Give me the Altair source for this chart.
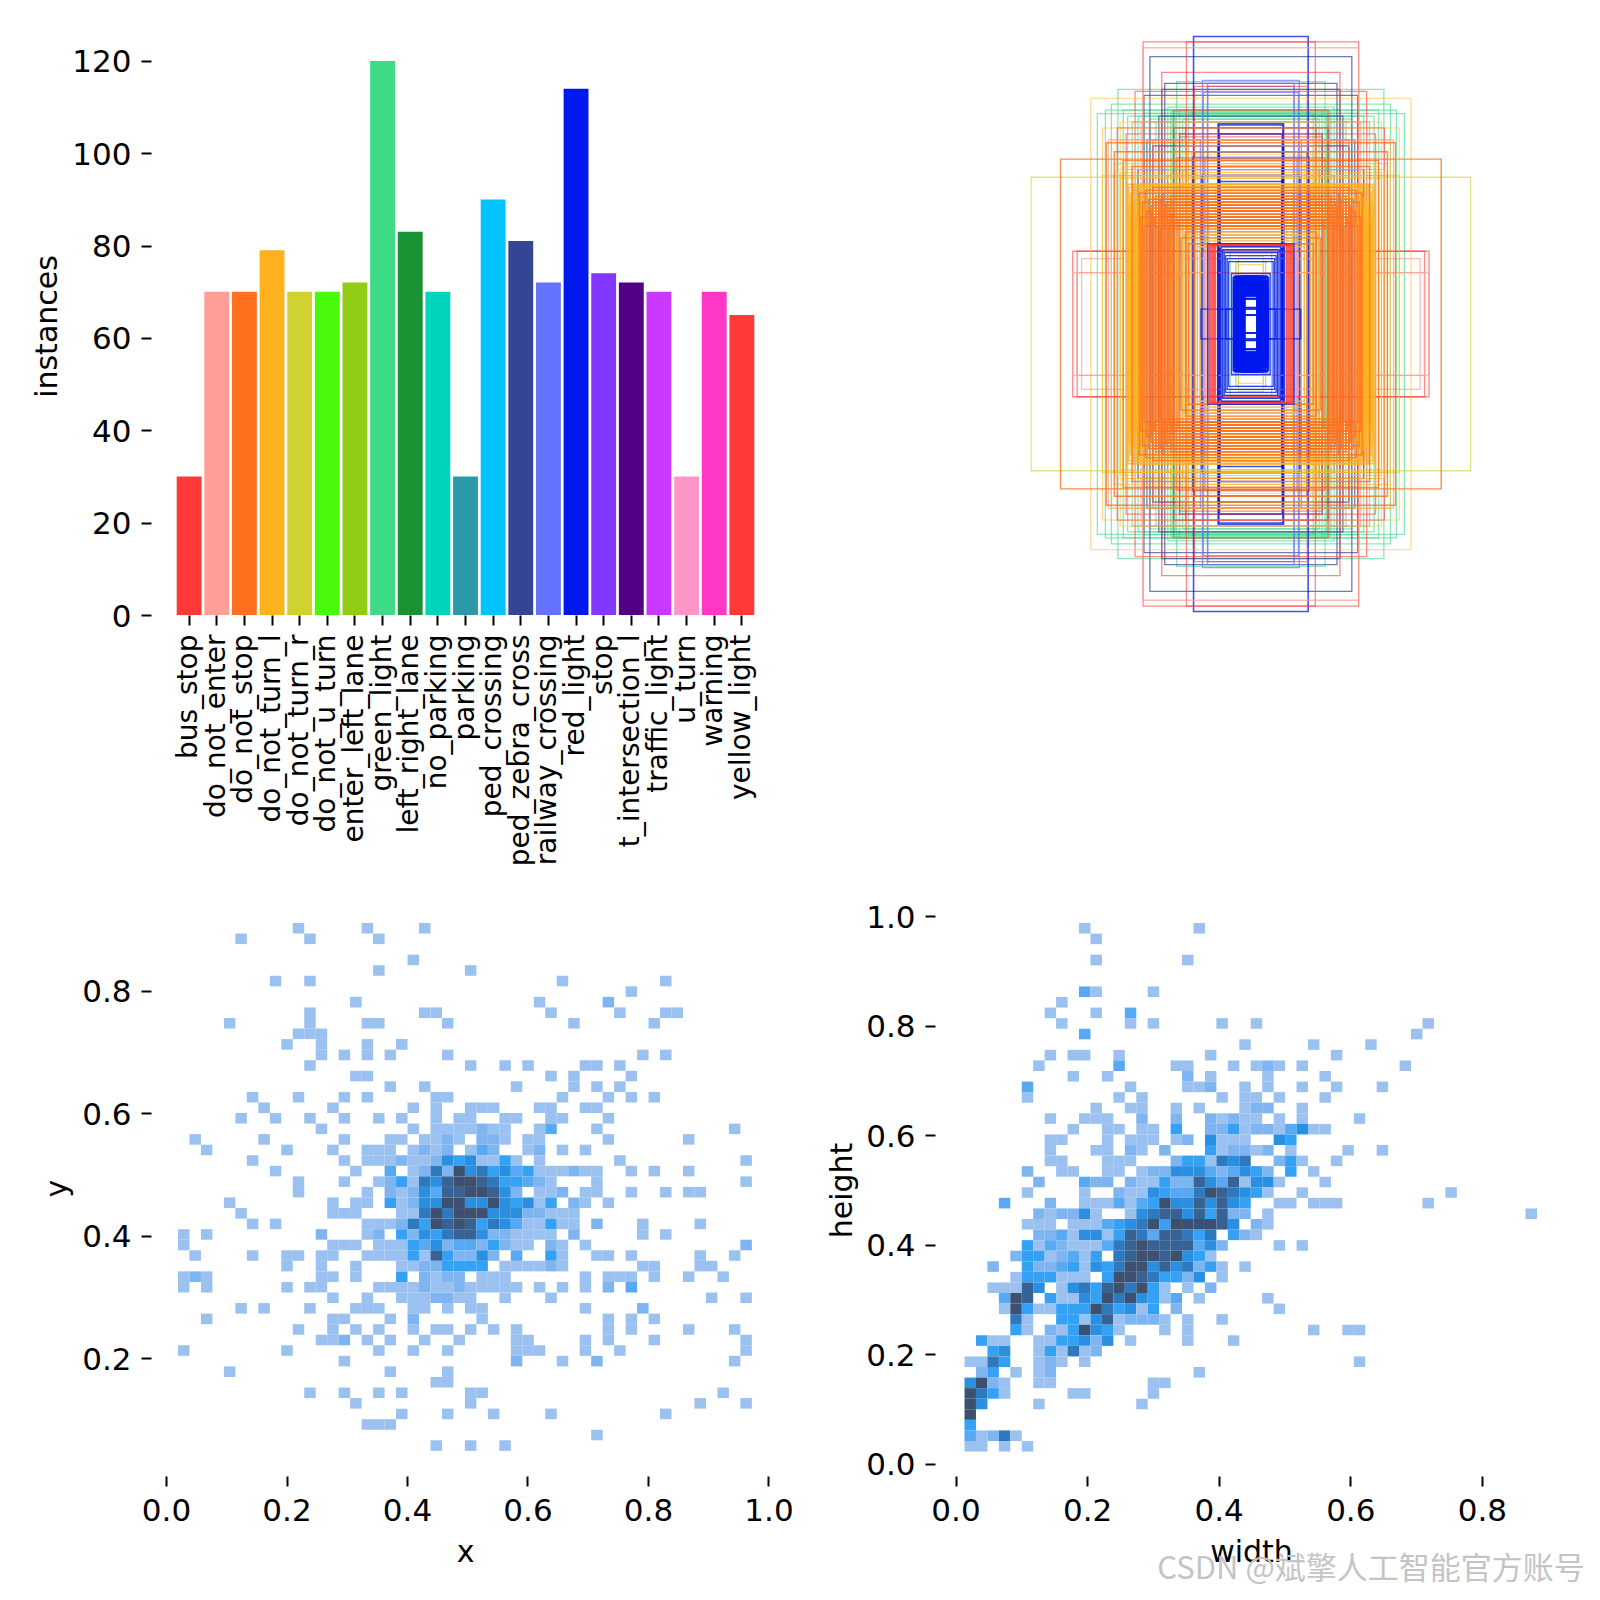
import altair as alt
import pandas as pd

CLASSES = ["bus_stop", "do_not_enter", "do_not_stop", "do_not_turn_l", "do_not_turn_r", "do_not_u_turn",
           "enter_left_lane", "green_light", "left_right_lane", "no_parking", "parking", "ped_crossing",
           "ped_zebra_cross", "railway_crossing", "red_light", "stop", "t_intersection_l", "traffic_light",
           "u_turn", "warning", "yellow_light"]
INSTANCES = [30, 70, 70, 79, 70, 70, 72, 120, 83, 70, 30, 90, 81, 72, 114, 74, 72, 70, 30, 70, 65]
BAR_COLORS = ["#FF3838", "#FF9D97", "#FF701F", "#FFB21D", "#CFD231", "#48F90A", "#92CC17", "#3DDB86", "#1A9334",
              "#00D4BB", "#2C99A8", "#00C2FF", "#344593", "#6473FF", "#0018EC", "#8438FF", "#520085", "#CB38FF",
              "#FF95C8", "#FF37C7", "#FF3838"]

LEVEL_COLORS = ["#9ac1f0", "#7eb5f1", "#58a9f3", "#35a1f5", "#2a8fe0", "#2e79bd", "#386294", "#3d5070"]

# histogram cells, top row first: "column" (lowest level) or "column:level"
XY_ROWS = ["10 16 21", "5 11 17", "", "20", "17 25", "8 11 33 42", "39", "15 31 37:2", "11 21 22 32 38 42 43",
           "4 11 16 17 23 34 41", "10 11 12", "9 12 16 19", "12 14 16 18 23 40 42", "11 25 28 30 35 36 38",
           "15 16 32 34 39", "18 21 29 34 36 38", "6 10 14 16 22 23 33 37 39 41", "7 13 20 22 25 26 27 31 32 35 36",
           "5 8 11 14 17 19 22 24 25 28 29 32 33 37", "12 20 22 23 24 25 26:2 27 28 31 32:3 36 48",
           "1 7 14 18 19 21 22 23:2 24 26:2 27:2 28 30 31 37 44",
           "2 9 13 16 17 18 20 21:2 22 23:2 25 26:3 27:2 30 31:2 33 35",
           "6 14 16 17 18 19:2 20 21 22:2 23:5 24:4 25:5 26 27 28:4 29 31 38 49",
           "8 15 18:3 20 21:2 22:6 23:2 24:8 25:5 26:6 27:4 28:5 29:3 30:4 31 32 33 34:2 35 36 39 41 44",
           "10 14 17 18:2 19:4 20 21:6 22:5 23:7 24:8 25:8 26:7 27:6 28:4 29:4 30:3 31:2 32 36 49",
           "10 16 18:2 19 20:2 21:5 22:3 23:7 24:7 25:8 26:8 27:7 28:5 29:2 31 32 33:2 35 36 39 42 44 45",
           "4 13 15 16 18:4 19 20:2 21:5 22:5 23:8 24:8 25:5 26:5 27:8 28:5 29:4 30:5 31 32:4 34:2 35 37",
           "5 13 14 15 19 20 21:6 22:8 23:6 24:8 25:8 26:8 27:5 28:5 29:5 30:2 31:2 32 33 34",
           "6 8 16 17 18 19:2 20:6 21:4 22:8 23:7 24:8 25:7 26:4 27:6 28:5 29:3 30 31 32:4 33 34 36:2 40 45",
           "0 2 12:2 16 17:2 19:4 20:2 21:5 22:4 23:6 24:7 25:7 26:5 27:2 28:2 29 30 31 32 34:2 40 42",
           "0 13 14 15 17 18 19 20:4 21:3 22:5 23:2 24:3 25:3 26:2 27:4 28:2 29 30 32:2 33 35 49:2",
           "1 6 9 10 12 13 16 17 18 19 20:4 21 22:7 23:4 24:2 25:2 26:5 27:2 29:3 32:4 33 36 37 39 45 48",
           "9 12 15 19 20 21:2 22:2 23:4 24:4 25:4 26:4 28 29 30 31 32:2 33 40 41 45 46",
           "0 1:2 2 12 13 15 19:4 21:2 22 23:2 24:2 26 27 28 35 37 38 39 41 44 47",
           "0 2 9 11 12 17 18 19 20 21:2 22 23 24:2 25 26 27 28 29 31 33 35 37:2 39:3",
           "13 16 19 20 21 22:2 23:2 24 25 28 32 46 49", "5 7 11 15 16 17 20 21 23 25 26 35 40:2",
           "2 13 14 18 20:2 26 37 39 41", "10 13 15 17 20 22 23 25 27 29 37 39 44 48",
           "12 13 14:2 16 18 21 24 29 30 35 37 41 49", "0 9 17 20 23 29 30 31 35 38 49", "14 29:2 33 36:2 48",
           "4 18 23", "22 23", "11 14 17 19 25 26 47", "15 25 45 49", "19 23 27 32 42", "16 17 18", "36", "22 25 28"]

WH_ROWS = ["10 20", "11", "", "11 19", "", "", "10:3 11 16", "8", "7 11 14:3", "8 14 16 22 25 40", "10:3 39",
           "24 30 35", "7 9 10 13 21 32", "6 13:3 18 19 23 25 26:2 27 29 38", "9 12 19:2 21 26 31",
           "5:3 14 19 20 21:2 24 26 29 32 36", "5 13 15 22 24 25 27 31", "11 14 15 18 20 24 25:2 26:2 29",
           "7 10 11 12 15:2 18:2 21:2 22 23:2 24 25 27 29 34",
           "9 12 13 15 16 18:4 21:2 22:2 23:4 24 25:2 26:2 27 28:3 29:5 30 31",
           "7 8 12 14 15 16 18 19:2 21:5 22 23 24 27:5 28:4", "7 11 12 14:2 15 17:2 21:4 22 23:2 24:2 25 26:2 28 33 36",
           "7 8 12 13 14 18:2 19:4 20:4 21 22:6 23:5 24:6 27:2 28:4 29 32",
           "5:2 8 9 12 13 15 16:2 17:2 18:5 19:5 20:5 21:3 22:2 23:3 24:5 25:4 26:2 28:4 30",
           "6:2 10:3 11:2 12:2 14:2 15 16 17:4 18:2 19:2 20:7 21:5 22:3 23:7 24 25:5 26:5 27 31",
           "5 10 13:2 14 15 16:5 17:4 18:3 19:3 20:6 21:8 22:7 23:6 24:5 25:4 26 29 42",
           "3:3 7:2 10 11 12 13:3 14 15:3 16:4 17:8 18:5 19:5 20:7 21:5 22:7 23:5 24:4 27 28 30 31 32 40",
           "6:2 7 8:2 9:2 10:5 11 14 15:5 16:6 17:7 18:7 19:5 20:7 21:4 22:7 23:2 24:2 26 49",
           "5 6 7 9 10 11 12:3 13:4 14:5 15:6 16:8 17:4 18:8 19:8 20:8 21:8 22:7 23:5 25:2 26",
           "6:2 7:2 8:3 9 10:5 11:5 12 13:4 14:7 15:6 16:3 17:7 18:7 19:6 20:4 21:6 23:4 24:2 25",
           "5:4 6 7:3 8:2 9 10 11 12:3 13:6 14:7 15:8 16:7 17:7 18:7 19:7 20:3 21:5 22:2 27 29",
           "4:2 5:4 6:4 7 8:2 9:3 10 11:4 13:6 14:7 15:8 16:8 17:7 18:8 19:5 20:4 21",
           "2:2 5:4 6:2 7:2 8:3 9:4 10 11:5 12:4 13:6 14:8 15:8 16:5 17:7 18:5 19:6 20:2 21:4 22 24",
           "4 5:4 6:4 7:4 8 9 10 12:4 13:8 14:8 15:7 16:6 17:4 18:4 19:2 20:5 22",
           "2 3 4 5:7 6:5 8 9:5 10:6 11:4 12:7 13:8 14:6 15:8 16:4 17 19 21:2",
           "3:3 4:8 5:7 7:4 8 9 10:5 11:4 12:8 13:6 14:8 15:5 16:4 17 18:3 20 26",
           "3 4:8 5:4 6 7 8:4 9:4 10:4 11:8 12:6 13:4 14:5 15 16:4 18:2 27",
           "4:6 5 8:4 9:4 10 11:5 12:7 13 14:2 15:2 16:2 17 19 22", "4:4 5 7:2 8 9:4 10:8 11:5 12:4 13 17 19 30 33 34",
           "1:4 2 3 6 7 8:4 9:4 10:5 11:2 12:5 14 19 23", "2:4 3:5 6 7:4 8 9:6 10 11:2", "0 1 2:6 3:4 6 7:2 8 10 34",
           "1:2 2:4 4 6 7:2 20", "0:5 1:8 2:2 3 6 7 16 17", "0:8 1:6 2:4 3 9 10 16", "0:8 1:5 6 15", "0:8", "0:4",
           "0:3 1 2:2 3:6 4", "0 1 3 5"]

# label boxes (width, height), normalised, listed per class in drawing order
BOXES_GREEN = [(.517, .708), (.448, .79), (.47, .74), (.43, .72), (.40, .68), (.25, .816), (.24, .72), (.22, .70),
               (.36, .71), (.38, .70), (.34, .69), (.32, .68), (.30, .72), (.28, .73), (.415, .70), (.49, .72),
               (.27, .715), (.265, .71), (.26, .705), (.255, .70), (.23, .69), (.21, .71), (.05, .21), (.07, .24),
               (.09, .25), (.16, .30)]
BOXES_BLUE_DARK = [(.34, .90), (.30, .79), (.29, .81), (.31, .70), (.33, .60), (.38, .52), (.36, .77), (.35, .62),
                   (.26, .66), (.24, .64)]
BOXES_BLUE_SKY = [(.163, .82), (.146, .81), (.145, .80), (.16, .78), (.17, .62), (.155, .56)]
BOXES_BLUE_MID = [(.11, .674), (.108, .67), (.106, .64), (.11, .60), (.107, .58), (.105, .53), (.109, .50), (.104, .48),
                  (.108, .42), (.11, .38), (.106, .34), (.19, .58), (.193, .968), (.196, .56), (.165, .50)]
BOXES_RED = [(.60, .245), (.585, .245), (.363, .95), (.217, .95), (.30, .847), (.39, .783), (.45, .66), (.42, .64),
             (.36, .55), (.33, .62), (.31, .60), (.24, .63), (.26, .72), (.20, .46), (.17, .38), (.28, .50),
             (.25, .56), (.23, .52), (.22, .66), (.19, .80)]
BOXES_PINK = [(.60, .173), (.585, .173), (.363, .93), (.57, .22), (.48, .62), (.37, .68), (.35, .50), (.30, .30),
              (.23, .38), (.21, .34), (.19, .30), (.18, .26), (.17, .28), (.16, .24), (.155, .27), (.15, .30)]
BOXES_YELLOW_GREEN = [(.74, .494), (.42, .58), (.50, .50), (.32, .44), (.29, .32), (.14, .42), (.36, .39), (.225, .30),
                      (.22, .36), (.20, .29), (.19, .28), (.18, .27), (.17, .26), (.21, .47), (.23, .44), (.405, .41),
                      (.042, .226)]
BOXES_YELLOW_THIN = [(.539, .76), (.50, .66), (.47, .62), (.44, .68), (.46, .54), (.45, .52), (.44, .51), (.43, .50),
                     (.22, .62), (.21, .60), (.20, .58), (.19, .56), (.23, .55), (.18, .54), (.215, .51), (.205, .49),
                     (.26, .47), (.24, .45), (.27, .53), (.25, .60), (.22, .57), (.30, .27), (.25, .29), (.12, .45),
                     (.11, .41), (.042, .20), (.27, .31), (.46, .50), (.44, .49), (.43, .53), (.42, .52)]
BOXES_YELLOW_BAND = [(.415, .47), (.413, .40), (.41, .46), (.407, .36), (.405, .44), (.402, .33), (.40, .45),
                     (.397, .39), (.395, .47), (.392, .35), (.39, .42), (.387, .37), (.385, .46), (.382, .34),
                     (.38, .43), (.377, .38), (.375, .47), (.372, .41), (.37, .45), (.367, .35), (.365, .42),
                     (.362, .39), (.36, .46)]
BOXES_ORANGE = [(.641, .555), (.487, .61), (.46, .58), (.43, .55), (.40, .53), (.375, .44), (.37, .36), (.365, .41),
                (.36, .33), (.355, .45), (.35, .38), (.345, .42), (.34, .34), (.335, .40), (.33, .46), (.325, .36),
                (.32, .43), (.315, .33), (.31, .39), (.305, .42), (.30, .35), (.295, .44), (.29, .38), (.285, .41),
                (.28, .34), (.275, .40), (.27, .43), (.265, .37), (.26, .39), (.258, .35), (.335, .37), (.32, .41),
                (.305, .32), (.29, .40), (.275, .33), (.262, .42), (.30, .40), (.28, .38), (.31, .36), (.34, .39),
                (.22, .31), (.21, .27), (.19, .33), (.245, .35), (.235, .29)]
BOXES_RED_INNER = [(.14, .267), (.137, .267), (.134, .267), (.131, .267), (.128, .267), (.125, .267), (.122, .267),
                   (.119, .267)]
BOXES_BLUE_RING = [(.145, .27), (.112, .27), (.108, .265), (.10, .26), (.095, .25), (.09, .24), (.085, .23), (.08, .22),
                   (.075, .21), (.168, .05), (.084, .05), (.06, .156), (.065, .17)]
BOXES_BLUE_CORE = [(.056, .16), (.056, .145), (.056, .13), (.056, .115), (.056, .10), (.056, .085), (.05, .16),
                   (.05, .145), (.05, .13), (.05, .115), (.05, .10), (.05, .085), (.045, .155), (.045, .14), (.045, .125),
                   (.045, .11), (.045, .095), (.04, .16), (.04, .15), (.04, .135), (.04, .12), (.04, .105), (.035, .155),
                   (.035, .14), (.035, .125), (.035, .11), (.03, .16), (.03, .15), (.03, .135), (.03, .12), (.03, .105),
                   (.025, .155), (.025, .14), (.025, .125), (.025, .095), (.022, .16), (.022, .145), (.022, .12),
                   (.022, .10), (.04, .055), (.04, .03)]

# (colour, boxes, line width, opacity)
BOX_GROUPS = [("#3DDB86", BOXES_GREEN, 1.3, 0.6), ("#344593", BOXES_BLUE_DARK, 1.3, 0.7),
              ("#6473FF", BOXES_BLUE_SKY, 1.3, 0.7), ("#0018EC", BOXES_BLUE_MID, 1.6, 0.75),
              ("#FF3838", BOXES_RED, 1.3, 0.6), ("#FF9D97", BOXES_PINK, 1.3, 0.7),
              ("#CFD231", BOXES_YELLOW_GREEN, 1.3, 0.6), ("#FFB21D", BOXES_YELLOW_THIN, 1.1, 0.55),
              ("#FFB21D", BOXES_YELLOW_BAND, 1.6, 0.8), ("#FF701F", BOXES_ORANGE, 1.4, 0.8),
              ("#0018EC", BOXES_BLUE_RING, 1.3, 0.8), ("#FF3838", BOXES_RED_INNER, 1.4, 0.7),
              ("#0018EC", BOXES_BLUE_CORE, 2.0, 0.95)]

WATERMARK = "CSDN @斌擎人工智能官方账号"

FONT = "DejaVu Sans"
FS_CAT = 28
FS_NUM = 31
FS_TITLE = 30


def axis_kw(num=True, pad=10, offset=0):
    return dict(domain=False, grid=False, tickColor="black", tickSize=10, tickWidth=2, labelFont=FONT,
                labelFontSize=FS_NUM if num else FS_CAT, labelColor="black", titleFont=FONT, titleFontSize=FS_TITLE,
                titleColor="black", titleFontWeight="normal", labelPadding=pad, labelOverlap=False,
                labelOffset=offset)


def cells(rows, x0, xw, y_top, yh):
    out = []
    for r, row in enumerate(rows):
        for tok in row.split():
            c, _, lev = tok.partition(":")
            c = int(c)
            out.append({"x": x0 + c * xw, "x2": x0 + (c + 1) * xw,
                        "y": y_top - r * yh, "y2": y_top - (r + 1) * yh,
                        "level": int(lev) if lev else 1})
    return pd.DataFrame(out)


color_enc = alt.Color("level:O", scale=alt.Scale(domain=list(range(1, 9)), range=LEVEL_COLORS), legend=None)

# ---------- instances bars
bars = pd.DataFrame({"name": CLASSES, "n": INSTANCES})
a = alt.Chart(bars).mark_bar().encode(
    x=alt.X("name:N", sort=CLASSES, title=None,
            scale=alt.Scale(paddingInner=0.1, paddingOuter=0.93),
            axis=alt.Axis(labelAngle=270, labelAlign="right", labelBaseline="middle", labelLimit=600,
                          **axis_kw(num=False, pad=9))),
    y=alt.Y("n:Q", title="instances", scale=alt.Scale(domain=[0, 128], nice=False),
            axis=alt.Axis(values=[0, 20, 40, 60, 80, 100, 120], titleX=-104, titleY=302, titleAlign="center",
                          titleBaseline="middle", **axis_kw(offset=2))),
    color=alt.Color("name:N", sort=CLASSES, scale=alt.Scale(domain=CLASSES, range=BAR_COLORS), legend=None),
).properties(width=629, height=591)

# ---------- box outlines
rows = []
for colr, group, sw, op in BOX_GROUPS:
    for w, h in group:
        rows.append({"x": -w / 2, "x2": w / 2, "y": -h / 2, "y2": h / 2, "c": colr, "sw": sw, "op": op})
boxes = pd.DataFrame(rows)
b = alt.Chart(boxes).mark_rect(filled=False).encode(
    x=alt.X("x:Q", scale=alt.Scale(domain=[-0.5319, 0.5273], nice=False), axis=None),
    x2="x2:Q",
    y=alt.Y("y:Q", scale=alt.Scale(domain=[-0.505, 0.505], nice=False), axis=None),
    y2="y2:Q",
    stroke=alt.Stroke("c:N", scale=None, legend=None),
    strokeWidth=alt.StrokeWidth("sw:Q", scale=None, legend=None),
    strokeOpacity=alt.StrokeOpacity("op:Q", scale=None, legend=None),
).properties(width=629, height=600)

# ---------- x / y histogram
c = alt.Chart(cells(XY_ROWS, 0.0199, 0.01905, 0.9112, 0.01726)).mark_rect(strokeWidth=0).encode(
    x=alt.X("x:Q", title="x", scale=alt.Scale(domain=[-0.0249, 1.02905], nice=False),
            axis=alt.Axis(values=[0, .2, .4, .6, .8, 1], format=".1f", titleX=314, titleY=76, titleBaseline="middle",
                          **axis_kw(pad=10))),
    x2="x2:Q",
    y=alt.Y("y:Q", title="y", scale=alt.Scale(domain=[0.0071, 0.9226], nice=False),
            axis=alt.Axis(values=[.2, .4, .6, .8], format=".1f", titleX=-94, titleY=272, titleAlign="center",
                          titleBaseline="middle", **axis_kw(offset=2))),
    y2="y2:Q",
    color=color_enc,
).properties(width=635, height=560)

# ---------- width / height histogram
d1 = alt.Chart(cells(WH_ROWS, 0.0137, 0.0174, 0.9872, 0.01929)).mark_rect(strokeWidth=0).encode(
    x=alt.X("x:Q", title="width", scale=alt.Scale(domain=[-0.03116, 0.91717], nice=False),
            axis=alt.Axis(values=[0, .2, .4, .6, .8], format=".1f", titleX=316, titleY=76, titleBaseline="middle",
                          **axis_kw(pad=10))),
    x2="x2:Q",
    y=alt.Y("y:Q", title="height", scale=alt.Scale(domain=[-0.0219, 1.0], nice=False),
            axis=alt.Axis(values=[0, .2, .4, .6, .8, 1], format=".1f", titleX=-93, titleY=274, titleAlign="center",
                          titleBaseline="middle", **axis_kw(offset=2))),
    y2="y2:Q",
    color=color_enc,
)
d2 = alt.Chart(pd.DataFrame({"t": [WATERMARK]})).mark_text(
    font="Noto Sans CJK SC", fontSize=31, color="#c4c4c4", align="center", baseline="middle"
).encode(x=alt.value(436), y=alt.value(654), text="t:N")
d = alt.layer(d1, d2).properties(width=624, height=560)

chart = alt.concat(a, b, c, d, columns=2, bounds="flush", spacing={"row": 292, "column": 149}).properties(
    padding={"left": 24, "top": 16, "right": 3, "bottom": 8},
    background="white",
).resolve_scale(color="independent").configure_view(stroke=None)

chart.save("out.html", embed_options={"renderer": "svg", "actions": False})
